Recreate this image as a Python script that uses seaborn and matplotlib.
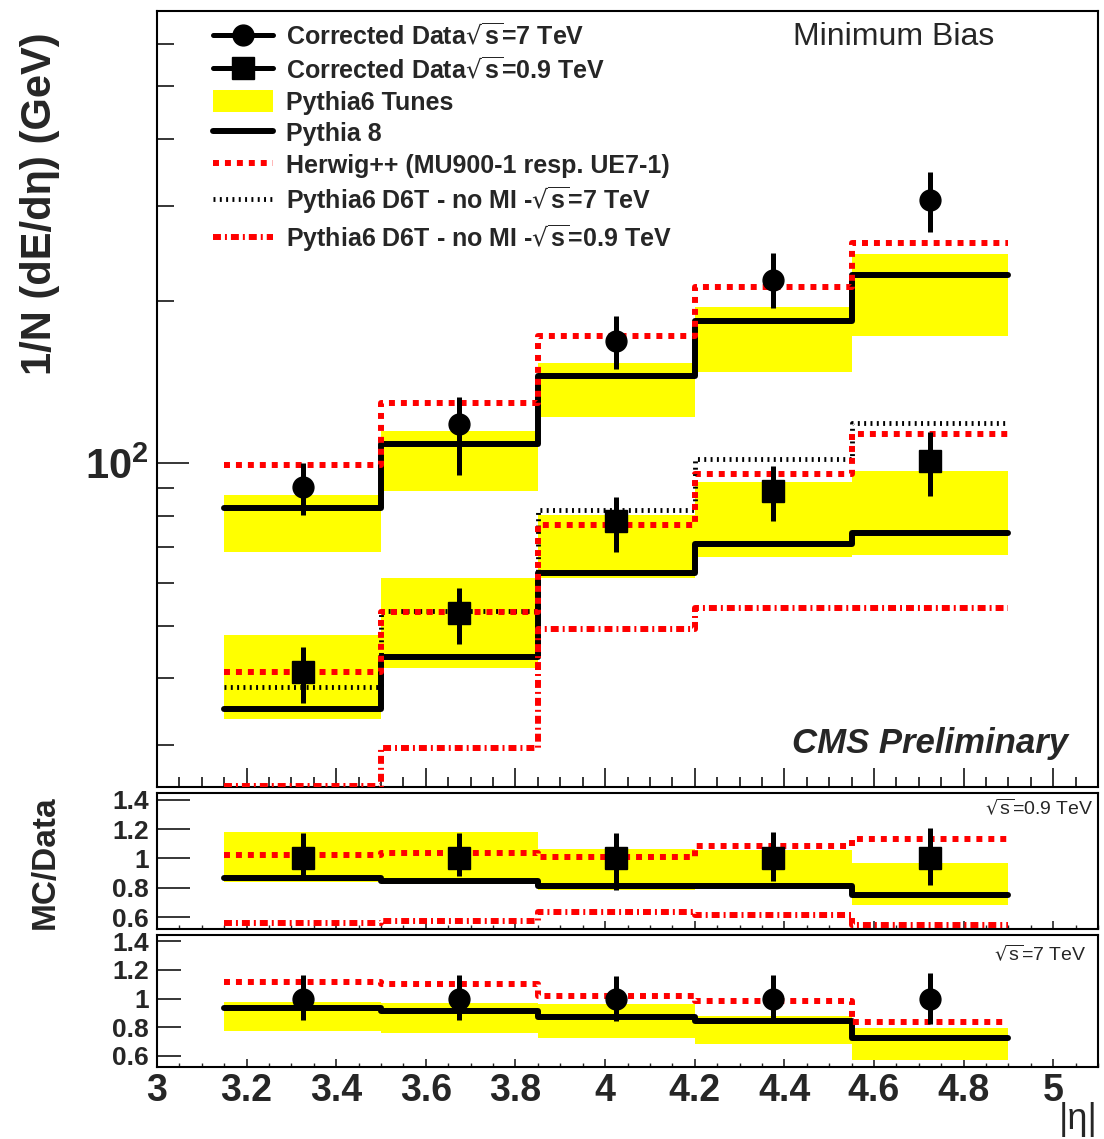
import numpy as np
import pandas as pd
import matplotlib
matplotlib.use('Agg')
import matplotlib.pyplot as plt
import seaborn as sns
from matplotlib.lines import Line2D
from matplotlib.patches import Patch
from matplotlib import ticker

# ---------------- data ----------------
eta_edges = [3.15, 3.5, 3.85, 4.2, 4.55, 4.9]
eta_centers = [3.325, 3.675, 4.025, 4.375, 4.725]

data7 = [90.2, 118.1, 168.4, 218.6, 307.6]
data7_lo = [80.1, 95.0, 149.4, 193.9, 268.3]
data7_hi = [100.0, 132.6, 187.4, 245.2, 346.7]
data09 = [41.1, 52.7, 78.0, 88.7, 100.9]
data09_lo = [36.0, 46.2, 68.4, 78.0, 86.9]
data09_hi = [45.6, 58.6, 86.5, 98.7, 114.2]

pythia8_7 = [82.5, 108.5, 145.0, 183.5, 223.3]
pythia8_09 = [35.0, 43.7, 62.5, 70.7, 74.1]
herwig_7 = [99.2, 129.2, 172.0, 212.1, 255.9]
herwig_09 = [41.1, 52.9, 77.0, 95.4, 113.2]
d6t_nomi_7 = [38.4, 53.2, 81.8, 101.7, 118.6]
d6t_nomi_09 = [25.2, 29.7, 49.2, 53.8, 54.0]
tunes7_lo = [68.4, 88.7, 121.7, 147.5, 172.0]
tunes7_hi = [87.2, 114.7, 153.3, 194.7, 244.2]
tunes09_lo = [33.6, 41.8, 61.2, 66.9, 67.5]
tunes09_hi = [48.0, 61.2, 80.1, 92.2, 96.6]

# ratio MC/Data, sqrt(s)=0.9 TeV
r09_data = [1.0, 1.0, 1.0, 1.0, 1.0]
r09_err_lo = [0.885, 0.88, 0.787, 0.845, 0.82]
r09_err_hi = [1.17, 1.17, 1.175, 1.18, 1.21]
r09_herwig = [1.02, 1.034, 1.007, 1.087, 1.134]
r09_pythia8 = [0.866, 0.847, 0.814, 0.81, 0.75]
r09_d6t = [0.563, 0.576, 0.637, 0.617, 0.55]
r09_tunes_lo = [0.84, 0.825, 0.785, 0.79, 0.68]
r09_tunes_hi = [1.18, 1.18, 1.067, 1.06, 0.966]

# ratio MC/Data, sqrt(s)=7 TeV
r7_data = [1.0, 1.0, 1.0, 1.0, 1.0]
r7_err_lo = [0.85, 0.85, 0.845, 0.865, 0.82]
r7_err_hi = [1.163, 1.163, 1.16, 1.163, 1.177]
r7_herwig = [1.113, 1.10, 1.02, 0.98, 0.837]
r7_pythia8 = [0.93, 0.91, 0.872, 0.84, 0.725]
r7_tunes_lo = [0.77, 0.755, 0.725, 0.68, 0.57]
r7_tunes_hi = [0.975, 0.965, 0.962, 0.88, 0.79]

xtick_vals = [3.0, 3.2, 3.4, 3.6, 3.8, 4.0, 4.2, 4.4, 4.6, 4.8, 5.0]
ratio_ticks = [0.6, 0.8, 1.0, 1.2, 1.4]

# ---------------- style ----------------
sns.set_theme(style='ticks')
plt.rcParams['font.family'] = ['Liberation Sans', 'DejaVu Sans']
plt.rcParams['axes.linewidth'] = 1.5
plt.rcParams['axes.edgecolor'] = 'black'

YELLOW = '#ffff00'
RED = '#ff0000'
LW = 4.3
DOT_RED = (0, (1, 1))
DOT_BLK = (0, (0.4, 0.9))
DASHDOT = (0, (1.33, 0.67, 0.33, 0.67))

fig = plt.figure(figsize=(11.04, 11.39), dpi=100)
W, H = 1104.0, 1139.0
left = 157 / W
width = (1098 - 157) / W
ax = fig.add_axes([left, 1 - 787 / H, width, (787 - 11) / H])
ar1 = fig.add_axes([left, 1 - 929 / H, width, (929 - 793) / H])
ar2 = fig.add_axes([left, 1 - 1067 / H, width, (1067 - 935) / H])


def step(a, vals, **kw):
    df = pd.DataFrame({'x': eta_edges, 'y': list(vals) + [vals[-1]]})
    sns.lineplot(data=df, x='x', y='y', drawstyle='steps-post', sort=False,
                 estimator=None, ax=a, legend=False, **kw)


def band(a, lo, hi):
    a.fill_between(eta_edges, list(lo) + [lo[-1]], list(hi) + [hi[-1]],
                   step='post', color=YELLOW, lw=0, zorder=1)


def points(a, y, lo, hi, marker, ms):
    y = np.array(y)
    a.errorbar(eta_centers, y, yerr=[y - np.array(lo), np.array(hi) - y],
               fmt=marker, color='black', ms=ms, elinewidth=3.6, capsize=0,
               zorder=6)


# ---------------- main panel ----------------
ax.set_yscale('log')
band(ax, tunes7_lo, tunes7_hi)
band(ax, tunes09_lo, tunes09_hi)
step(ax, pythia8_7, color='black', lw=LW, zorder=3)
step(ax, pythia8_09, color='black', lw=LW, zorder=3)
step(ax, d6t_nomi_7, color='black', lw=3.5, linestyle=DOT_BLK, zorder=3)
step(ax, herwig_7, color=RED, lw=LW, linestyle=DOT_RED, zorder=4)
step(ax, herwig_09, color=RED, lw=LW, linestyle=DOT_RED, zorder=4)
step(ax, d6t_nomi_09, color=RED, lw=LW, linestyle=DASHDOT, zorder=4)
points(ax, data7, data7_lo, data7_hi, 'o', 15)
points(ax, data09, data09_lo, data09_hi, 's', 16)

ax.set_ylim(25.1, 690)
ax.yaxis.set_major_locator(ticker.LogLocator(base=10, numticks=10))
ax.yaxis.set_minor_locator(ticker.LogLocator(base=10, subs=np.arange(2, 10), numticks=20))
ax.yaxis.set_major_formatter(ticker.LogFormatterSciNotation())
ax.yaxis.set_minor_formatter(ticker.NullFormatter())
ax.tick_params(axis='y', which='major', direction='in', length=23, width=1.3,
               labelsize=30, pad=6, left=True, right=False)
ax.tick_params(axis='y', which='minor', direction='in', length=12, width=1.3,
               left=True, right=False)
for lab in ax.get_yticklabels():
    lab.set_fontweight('bold')

ax.tick_params(axis='x', which='major', direction='in', length=14, width=1.3,
               labelbottom=False, top=False)
ax.tick_params(axis='x', which='minor', direction='in', length=7, width=1.3, top=False)

legend_handles = [
    Line2D([0], [0], color='black', marker='o', ms=15, lw=3.6),
    Line2D([0], [0], color='black', marker='s', ms=16, lw=3.6),
    Patch(facecolor=YELLOW, edgecolor='none'),
    Line2D([0], [0], color='black', lw=LW),
    Line2D([0], [0], color=RED, lw=LW, linestyle=DOT_RED),
    Line2D([0], [0], color='black', lw=3.5, linestyle=DOT_BLK),
    Line2D([0], [0], color=RED, lw=LW, linestyle=DASHDOT),
]
legend_labels = [
    r'Corrected Data$\sqrt{\mathdefault{s}}$=7 TeV',
    r'Corrected Data$\sqrt{\mathdefault{s}}$=0.9 TeV',
    'Pythia6 Tunes',
    'Pythia 8',
    'Herwig++ (MU900-1 resp. UE7-1)',
    r'Pythia6 D6T - no MI -$\sqrt{\mathdefault{s}}$=7 TeV',
    r'Pythia6 D6T - no MI -$\sqrt{\mathdefault{s}}$=0.9 TeV',
]
ax.legend(legend_handles, legend_labels, loc='upper left',
          bbox_to_anchor=((213 - 157) / 941, 1 - (23 - 11) / 776),
          frameon=False, prop={'weight': 'bold', 'size': 18},
          handlelength=2.4, handletextpad=0.5, handleheight=1.0,
          labelspacing=0.27, borderaxespad=0, borderpad=0, numpoints=1)

# ---------------- ratio panels ----------------
band(ar1, r09_tunes_lo, r09_tunes_hi)
step(ar1, r09_pythia8, color='black', lw=LW, zorder=3)
step(ar1, r09_herwig, color=RED, lw=LW, linestyle=DOT_RED, zorder=4)
step(ar1, r09_d6t, color=RED, lw=LW, linestyle=DASHDOT, zorder=4)
points(ar1, r09_data, r09_err_lo, r09_err_hi, 's', 16)

band(ar2, r7_tunes_lo, r7_tunes_hi)
step(ar2, r7_pythia8, color='black', lw=LW, zorder=3)
step(ar2, r7_herwig, color=RED, lw=LW, linestyle=DOT_RED, zorder=4)
points(ar2, r7_data, r7_err_lo, r7_err_hi, 'o', 15)

for a, tl in ((ar1, 24), (ar2, 17)):
    a.set_ylim(0.52, 1.445)
    a.yaxis.set_major_locator(ticker.FixedLocator(ratio_ticks))
    a.yaxis.set_major_formatter(ticker.FuncFormatter(lambda v, p: f'{v:g}'))
    a.tick_params(axis='y', which='major', direction='in', length=tl, width=1.3,
                  labelsize=19, pad=6, left=True, right=False)
    a.tick_params(axis='x', which='major', direction='in', length=6, width=1.2, top=False)
    a.tick_params(axis='x', which='minor', direction='in', length=3, width=1.0, top=False)
    a.yaxis.set_minor_locator(ticker.NullLocator())
    for lab in a.get_yticklabels():
        lab.set_fontweight('bold')

ar1.tick_params(axis='x', labelbottom=False)
ar2.xaxis.set_major_locator(ticker.FixedLocator(xtick_vals))
ar2.xaxis.set_major_formatter(ticker.FuncFormatter(lambda v, p: f'{v:g}'))
ar2.tick_params(axis='x', which='major', labelsize=27, pad=4)

for a in (ax, ar1, ar2):
    a.xaxis.set_major_locator(ticker.FixedLocator(xtick_vals))
    a.xaxis.set_minor_locator(ticker.MultipleLocator(0.05))
    a.set_xlim(3.0, 5.1)
    a.set_xlabel('')
    a.set_ylabel('')
    for s in a.spines.values():
        s.set_visible(True)
        s.set_linewidth(1.5)
        s.set_color('black')

ar2.xaxis.set_major_formatter(ticker.FuncFormatter(lambda v, p: f'{v:g}'))
for lab in ar2.get_xticklabels():
    lab.set_fontweight('bold')

# ---------------- texts ----------------
fig.text(894 / W, 1 - 37 / H, 'Minimum Bias', ha='center', va='center', fontsize=23)
fig.text(1068 / W, 1 - 744 / H, 'CMS Preliminary', ha='right', va='center',
         fontsize=25, fontweight='bold', fontstyle='italic')
fig.text(1094 / W, 1 - 808 / H, r'$\sqrt{\mathdefault{s}}$=0.9 TeV', ha='right',
         va='center', fontsize=14)
fig.text(1086 / W, 1 - 954 / H, r'$\sqrt{\mathdefault{s}}$=7 TeV', ha='right',
         va='center', fontsize=14)
fig.text(40 / W, 1 - 204 / H, '1/N (dE/dη) (GeV)', rotation=90, ha='center',
         va='center', fontsize=30, fontweight='bold')
fig.text(45 / W, 1 - 862 / H, 'MC/Data', rotation=90, ha='center', va='center',
         fontsize=24, fontweight='bold')
fig.text(1098 / W, 1 - 1137 / H, '|η|', ha='right', va='bottom', fontsize=26)

fig.savefig('out.png', dpi=100)
